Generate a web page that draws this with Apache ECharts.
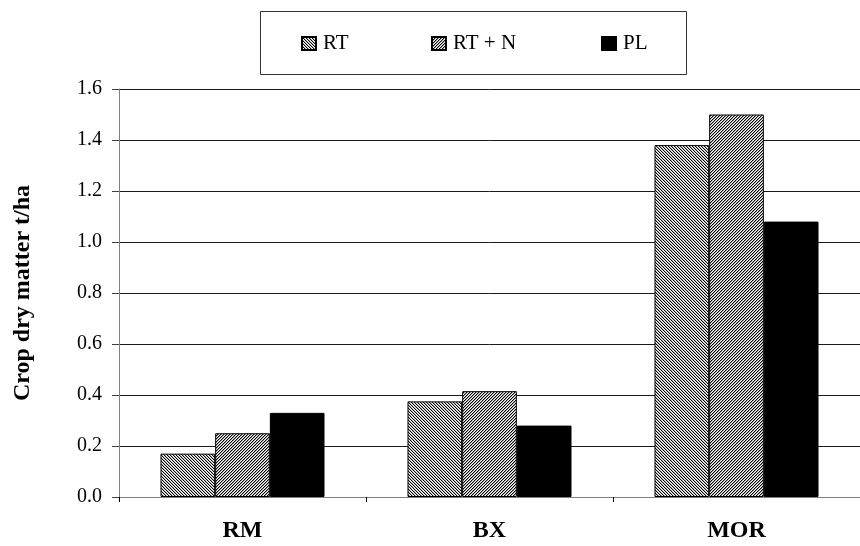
<!DOCTYPE html>
<html>
<head>
<meta charset="utf-8">
<script src="https://cdn.jsdelivr.net/npm/echarts@6/dist/echarts.min.js"></script>
<style>
  html, body { margin: 0; padding: 0; background: #fff; }
  #chart { width: 860px; height: 546px; }
</style>
</head>
<body>
<div id="chart"></div>
<script>
// Crop dry matter (t/ha) by site and treatment
const sites = ['RM', 'BX', 'MOR'];
const seriesNames = ['RT', 'RT + N', 'PL'];
const rtValues = [0.17, 0.375, 1.38];
const rtnValues = [0.25, 0.415, 1.50];
const plValues = [0.33, 0.28, 1.08];
const yTicks = ['0.0', '0.2', '0.4', '0.6', '0.8', '1.0', '1.2', '1.4', '1.6'];

// Fine diagonal hatch fills built on small repeating tiles
function hatch(dir, mid) {
  const n = 3;
  const c = document.createElement('canvas');
  c.width = n; c.height = n;
  const g = c.getContext('2d');
  g.fillStyle = '#fff';
  g.fillRect(0, 0, n, n);
  for (let x = 0; x < n; x++) {
    for (let y = 0; y < n; y++) {
      const k = dir === 'down' ? ((x - y) % n + n) % n : (x + y) % n;
      if (k === 0) { g.fillStyle = '#000'; g.fillRect(x, y, 1, 1); }
      else if (k === 1) { g.fillStyle = mid; g.fillRect(x, y, 1, 1); }
    }
  }
  return { image: c, repeat: 'repeat' };
}

const font = '"Liberation Serif", "Times New Roman", serif';
const chart = echarts.init(document.getElementById('chart'), null, { renderer: 'canvas' });

const fills = [hatch('down', '#b4b4b4'), hatch('up', '#a0a0a0'), '#000'];
const values = [rtValues, rtnValues, plValues];
const legendX = [301, 431, 601];

chart.setOption({
  animation: false,
  backgroundColor: '#fff',
  textStyle: { fontFamily: font },
  graphic: [{
    type: 'rect',
    shape: { x: 260.5, y: 11.5, width: 426, height: 63 },
    style: { fill: '#fff', stroke: '#333', lineWidth: 1 },
    z: -1
  }],
  legend: seriesNames.map((n, i) => ({
    data: [n],
    left: legendX[i],
    top: 33,
    itemWidth: 14,
    itemHeight: 13,
    itemGap: 0,
    padding: 0,
    icon: 'rect',
    textStyle: { fontFamily: font, fontSize: 21, color: '#000', padding: [0, 0, 0, 2] }
  })),
  grid: { left: 119, right: -10, top: 89, bottom: 49, containLabel: false },
  xAxis: {
    type: 'category',
    data: sites,
    axisLine: { lineStyle: { color: '#808080', width: 1 } },
    axisTick: { show: true, alignWithLabel: false, length: 5, lineStyle: { color: '#000' } },
    axisLabel: { margin: 22, fontFamily: font, fontSize: 24, fontWeight: 'bold', color: '#000' },
    splitLine: { show: false }
  },
  yAxis: {
    type: 'value',
    min: 0,
    max: 1.6,
    interval: 0.2,
    name: 'Crop dry matter t/ha',
    nameLocation: 'middle',
    nameRotate: 90,
    nameGap: 84,
    nameTextStyle: { fontFamily: font, fontSize: 24, fontWeight: 'bold', color: '#000' },
    axisLine: { show: true, lineStyle: { color: '#808080', width: 1 } },
    axisTick: { show: true, inside: false, length: 7, lineStyle: { color: '#404040' } },
    axisLabel: {
      margin: 17, fontFamily: font, fontSize: 20, color: '#000',
      formatter: v => yTicks[Math.round(v / 0.2)]
    },
    splitLine: { show: true, lineStyle: { color: '#1a1a1a', width: 1 } }
  },
  series: seriesNames.map((n, i) => ({
    name: n,
    type: 'bar',
    data: values[i],
    barGap: '0%',
    barCategoryGap: '33.6%',
    itemStyle: { color: fills[i], borderColor: '#000', borderWidth: 1 }
  }))
});
</script>
</body>
</html>
